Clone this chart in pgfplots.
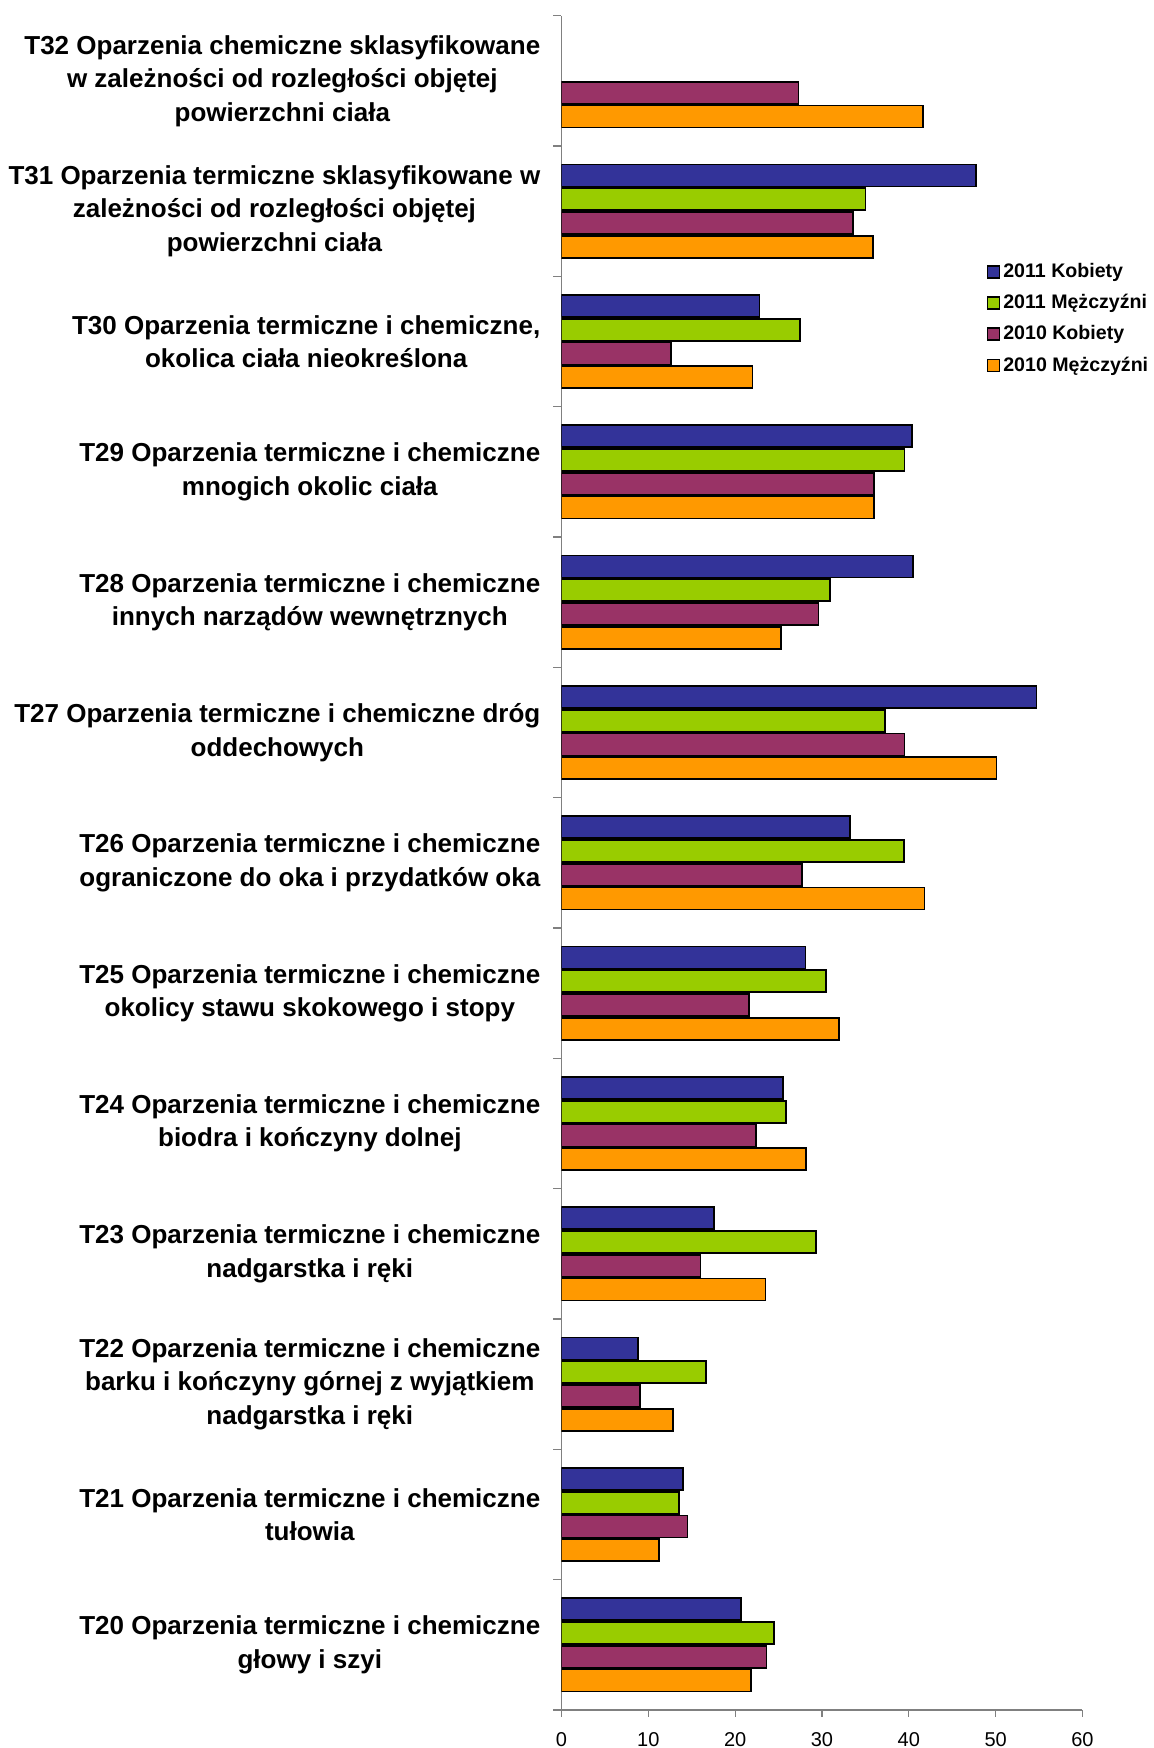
\documentclass[border=0pt]{standalone}
\usepackage{pgfplots}
\pgfplotsset{compat=1.18}
\usepackage{fontspec}
\setmainfont{Liberation Sans}
\definecolor{cK11}{HTML}{333399}
\definecolor{cM11}{HTML}{99CC00}
\definecolor{cK10}{HTML}{993366}
\definecolor{cM10}{HTML}{FF9900}
\definecolor{axgray}{HTML}{808080}
\begin{document}
\begin{tikzpicture}
\begin{axis}[
  at={(0pt,0pt)}, anchor=south west,
  scale only axis, width=260.5pt, height=847.15pt,
  xbar=0.9pt, bar width=11pt,
  xmin=0, xmax=60, ymin=-0.5, ymax=12.5,
  axis x line*=bottom, axis y line*=left,
  axis line style={axgray, line width=0.6pt},
  tick align=outside,
  xtick={0,10,...,60},
  major tick length=3.5pt, minor tick length=4pt,
  x tick style={axgray, line width=0.6pt},
  major y tick style={draw=none},
  minor y tick style={axgray, line width=0.6pt},
  ytick={0,...,12},
  minor ytick={-0.5,0.5,...,12.5},
  /pgf/number format/assume math mode=true,
  xticklabel style={font=\fontsize{10}{12}\selectfont, yshift=-4.3pt},
  yticklabel style={font=\bfseries\fontsize{13}{16.75}\selectfont, align=center, anchor=east, inner sep=0pt, xshift=-6.9pt},
  yticklabels={
    {T20 Oparzenia termiczne i chemiczne\\głowy i szyi},
    {T21 Oparzenia termiczne i chemiczne\\tułowia},
    {T22 Oparzenia termiczne i chemiczne\\barku i kończyny górnej z wyjątkiem\\nadgarstka i ręki},
    {T23 Oparzenia termiczne i chemiczne\\nadgarstka i ręki},
    {T24 Oparzenia termiczne i chemiczne\\biodra i kończyny dolnej},
    {T25 Oparzenia termiczne i chemiczne\\okolicy stawu skokowego i stopy},
    {T26 Oparzenia termiczne i chemiczne\\ograniczone do oka i przydatków oka},
    {T27 Oparzenia termiczne i chemiczne dróg\\oddechowych},
    {T28 Oparzenia termiczne i chemiczne\\innych narządów wewnętrznych},
    {T29 Oparzenia termiczne i chemiczne\\mnogich okolic ciała},
    {T30 Oparzenia termiczne i chemiczne,\\okolica ciała nieokreślona},
    {T31 Oparzenia termiczne sklasyfikowane w\\zależności od rozległości objętej\\powierzchni ciała},
    {T32 Oparzenia chemiczne sklasyfikowane\\w zależności od rozległości objętej\\powierzchni ciała}
  },
  every axis plot/.append style={draw=black, line width=0.9pt,
    legend image code/.code={\draw[##1, line width=0.9pt] (0pt,-3pt) rectangle (6pt,3pt);}},
  reverse legend,
  legend cell align=left,
  legend style={at={(0.815,0.856)}, anchor=north west, draw=none, fill=none,
    inner sep=0pt, row sep=4pt,
    font=\bfseries\fontsize{9.8}{11}\selectfont,
    nodes={inner sep=1.5pt}},
]
\addplot[fill=cM10] coordinates {(21.8,0) (11.2,1) (12.8,2) (23.5,3) (28.2,4) (32.0,5) (41.8,6) (50.1,7) (25.3,8) (36.0,9) (22.0,10) (35.9,11) (41.6,12)};
\addplot[fill=cK10] coordinates {(23.6,0) (14.5,1) (9.0,2) (16.0,3) (22.4,4) (21.6,5) (27.7,6) (39.5,7) (29.6,8) (36.0,9) (12.6,10) (33.6,11) (27.3,12)};
\addplot[fill=cM11] coordinates {(24.5,0) (13.5,1) (16.6,2) (29.3,3) (25.9,4) (30.5,5) (39.4,6) (37.3,7) (30.9,8) (39.5,9) (27.5,10) (35.0,11)};
\addplot[fill=cK11] coordinates {(20.7,0) (14.0,1) (8.8,2) (17.6,3) (25.5,4) (28.1,5) (33.2,6) (54.7,7) (40.5,8) (40.4,9) (22.8,10) (47.7,11)};
\legend{2010 Mężczyźni, 2010 Kobiety, 2011 Mężczyźni, 2011 Kobiety}
\end{axis}
\pgfresetboundingbox
\path[use as bounding box] (-280.75pt,-19pt) rectangle (295.75pt,855pt);
\end{tikzpicture}
\end{document}
